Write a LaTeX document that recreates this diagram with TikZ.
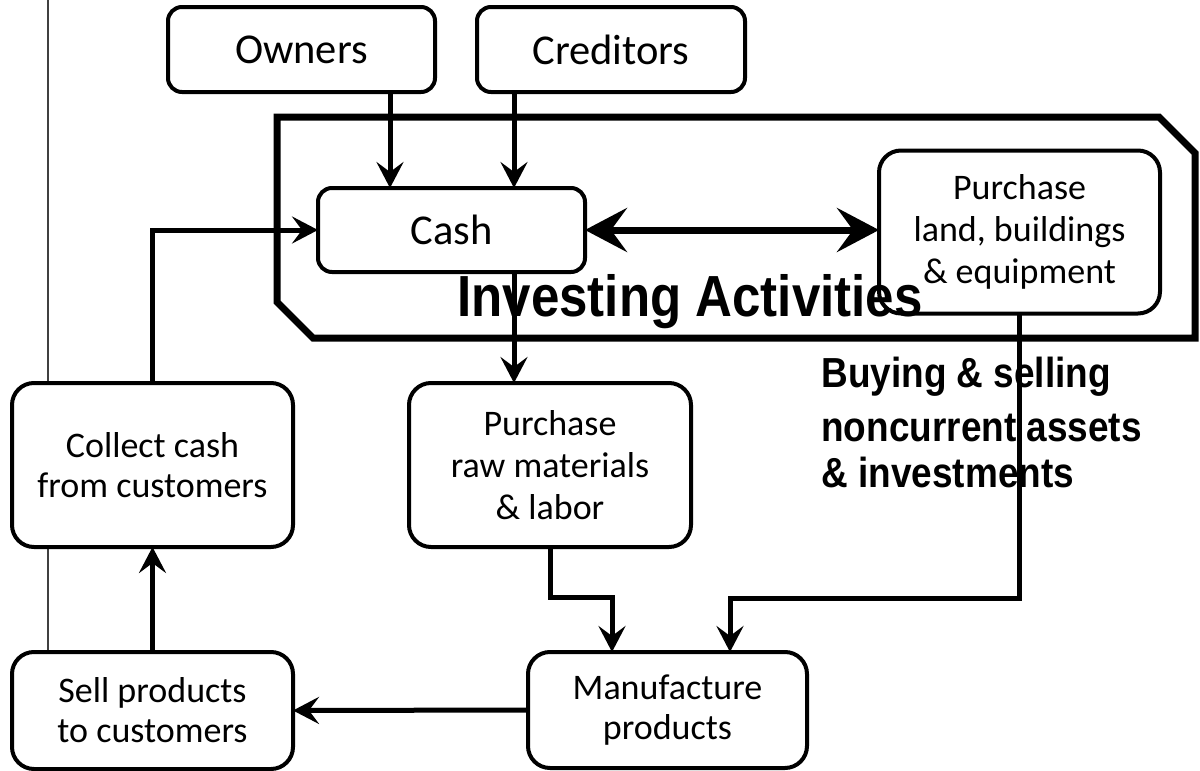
\documentclass[tikz,border=0pt]{standalone}
\usepackage{fontspec}
\setmainfont{Carlito}
\newfontfamily\narrowbf[FakeStretch=0.88]{Liberation Sans Bold}
\usetikzlibrary{arrows.meta}
\begin{document}
\begin{tikzpicture}[x=0.5pt,y=-0.5pt,
  box/.style={draw, line width=2pt, rounded corners=11pt, fill=white, inner sep=0pt, outer sep=0pt,
    align=center, font=\fontsize{18}{20}\selectfont},
  topbox/.style={box, rounded corners=7pt, font=\fontsize{21.25}{24}\selectfont},
  arr/.style={line width=2.5pt, -{Stealth[length=13pt, width=13.5pt, inset=5pt]}},
  dblarr/.style={line width=3.5pt, {Stealth[length=21pt, width=22pt, inset=8pt]}-{Stealth[length=21pt, width=22pt, inset=8pt]}},
  frame/.style={line width=3.5pt},
  thinline/.style={line width=0.8pt, black!75},
  bigtitle/.style={anchor=base west, inner sep=0pt, font=\narrowbf\fontsize{29}{31}\selectfont},
  note/.style={anchor=base west, inner sep=0pt, font=\narrowbf\fontsize{21}{24}\selectfont}
]
\useasboundingbox (0,0) rectangle (1200,771);

% thin vertical rule behind the left boxes
\draw[thinline] (48,0) -- (48,660);

% investing frame
\draw[frame] (277,117) -- (1159,117) -- (1195,153) -- (1195,338) -- (313,338) -- (277,302) -- cycle;

% boxes
\node[topbox, minimum width=133.5pt, minimum height=42.5pt] (owners) at (301.5,49.5) {Owners};
\node[topbox, minimum width=134pt, minimum height=42.5pt] (creditors) at (611,49.5) {Creditors};
\node[topbox, minimum width=133.5pt, minimum height=42pt] (cash) at (451.5,230) {Cash};
\node[box, minimum width=140.5pt, minimum height=81.5pt, font=\fontsize{18}{21}\selectfont] (land) at (1019.5,232) {Purchase\\land, buildings\\\& equipment};
\node[box, minimum width=140.5pt, minimum height=82pt] (collect) at (152.5,465) {Collect cash\\from customers};
\node[box, minimum width=141pt, minimum height=82pt, font=\fontsize{18}{21}\selectfont] (raw) at (550,465) {Purchase\\raw materials\\\& labor};
\node[box, minimum width=140.5pt, minimum height=58.5pt] (sell) at (152.5,710.5) {Sell products\\to customers};
\node[box, minimum width=139.5pt, minimum height=58pt] (manu) at (667.5,710) {Manufacture\\products};

% helper coordinates
\coordinate (xa) at (390,0);
\coordinate (xb) at (514,0);
\coordinate (k1) at (612,597);
\coordinate (k2) at (730,598);

% connectors
\draw[arr] (owners.south -| xa) -- (cash.north -| xa);
\draw[arr] (creditors.south -| xb) -- (cash.north -| xb);
\draw[arr] (cash.south -| xb) -- (raw.north -| xb);
\draw[dblarr] (cash.east) -- (land.west |- cash.east);
\draw[arr] (collect.north) |- (cash.west);
\draw[arr] (sell.north) -- (collect.south);
\draw[arr] (manu.west) -- (sell.east);
\draw[arr] (raw.south) |- (k1) -- (manu.north -| k1);
\draw[arr] (land.south) |- (k2) -- (manu.north -| k2);

% labels
\node[bigtitle] (inv) at (457,316) {Investing Activities};
\node[note] (buy1) at (821,387) {Buying \& selling};
\node[note] (buy2) at (821,441) {noncurrent assets};
\node[note] (buy3) at (821,487) {\& investments};
\end{tikzpicture}
\end{document}
